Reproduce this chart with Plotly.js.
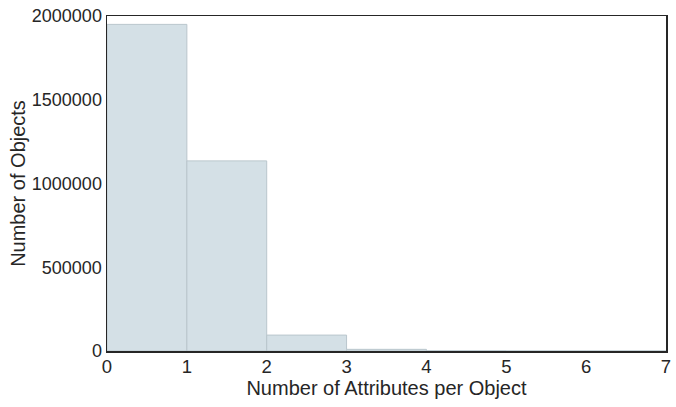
<!DOCTYPE html>
<html>
<head>
<script src="https://cdn.plot.ly/plotly-3.0.1.min.js"></script>
<style>body{margin:0;padding:0;background:#fff;}#chart{width:676px;height:407px;}</style>
</head>
<body>
<div id="chart"></div>
<script>
const binStarts = [0, 1, 2, 3, 4, 5, 6];
const counts = [1950000, 1135000, 95000, 10000, 1000, 0, 0];
const xTicks = [0, 1, 2, 3, 4, 5, 6, 7];
const yTicks = [0, 500000, 1000000, 1500000, 2000000];

const trace = {
  type: 'bar',
  x: binStarts.map(b => b + 0.5),
  y: counts,
  width: 1,
  marker: {color: 'rgba(212,224,230,1)', line: {color: 'rgba(185,198,204,1)', width: 1}},
  hoverinfo: 'x+y'
};
const font = {family: 'Liberation Sans, Arial, sans-serif', color: '#262626'};
const layout = {
  width: 676, height: 407,
  margin: {l: 107, r: 10, t: 16, b: 56},
  paper_bgcolor: '#fff', plot_bgcolor: '#fff',
  showlegend: false,
  bargap: 0,
  xaxis: {
    range: [0, 7], tickvals: xTicks, ticktext: xTicks.map(String),
    showgrid: false, zeroline: false, showline: true, mirror: true,
    linecolor: '#262626', linewidth: 1.5, ticks: '',
    ticklabelstandoff: -2,
    tickfont: Object.assign({size: 18.5}, font),
    title: {text: 'Number of Attributes per Object', font: Object.assign({size: 20}, font), standoff: 4}
  },
  yaxis: {
    range: [0, 2000000], tickvals: yTicks, ticktext: yTicks.map(String),
    showgrid: false, zeroline: false, showline: true, mirror: true,
    linecolor: '#262626', linewidth: 1.5, ticks: '',
    tickfont: Object.assign({size: 18}, font),
    title: {text: 'Number of Objects', font: Object.assign({size: 20}, font), standoff: 1}
  }
};
Plotly.newPlot('chart', [trace], layout, {displayModeBar: false, staticPlot: true});
</script>
</body>
</html>
